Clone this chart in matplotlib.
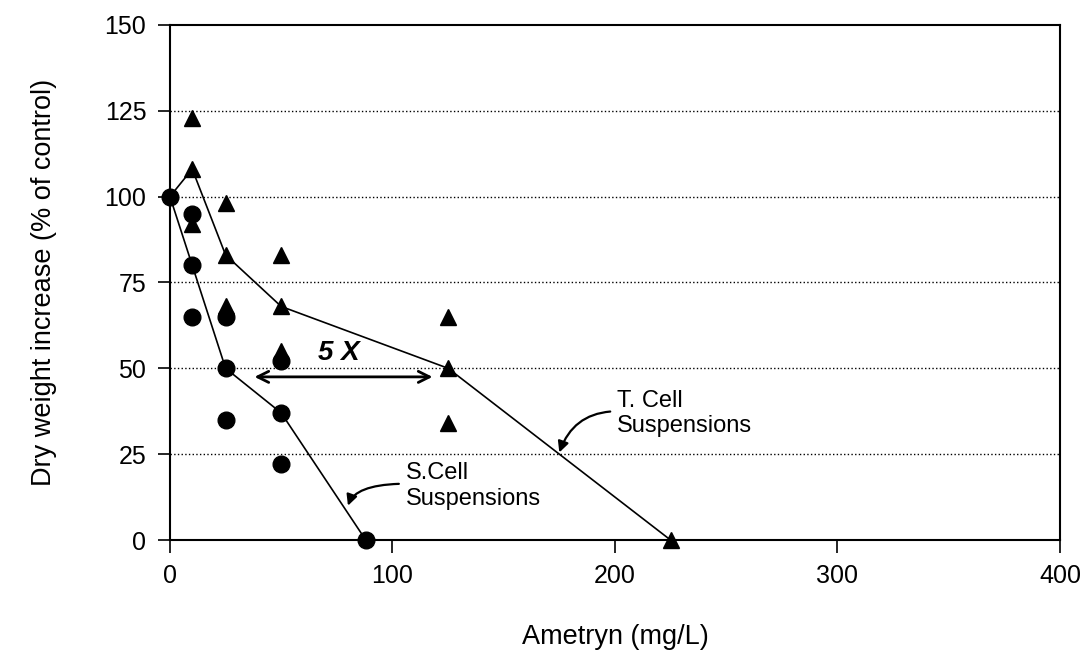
import matplotlib.pyplot as plt

plt.rcParams["font.family"] = ["Liberation Sans", "DejaVu Sans"]

# S. cell suspensions (circles)
s_x = [0, 10, 10, 10, 25, 25, 25, 50, 50, 50, 88]
s_y = [100, 95, 80, 65, 65, 50, 35, 52, 37, 22, 0]
s_line_x = [0, 10, 25, 50, 88]
s_line_y = [100, 80, 50, 37, 0]

# T. cell suspensions (triangles)
t_x = [10, 10, 10, 25, 25, 25, 50, 50, 50, 125, 125, 125, 225]
t_y = [123, 108, 92, 98, 83, 68, 83, 68, 55, 65, 50, 34, 0]
t_line_x = [0, 10, 25, 50, 125, 225]
t_line_y = [100, 108, 83, 68, 50, 0]

x_ticks = [0, 100, 200, 300, 400]
y_ticks = [0, 25, 50, 75, 100, 125, 150]

fig = plt.figure(figsize=(10.86, 6.53), dpi=100)
ax = fig.add_axes([0.1565, 0.173, 0.8195, 0.789])

for yv in y_ticks[1:-1]:
    ax.axhline(yv, color="black", linestyle=":", linewidth=1.0, zorder=1)

ax.plot(s_line_x, s_line_y, "-", color="black", linewidth=1.2, zorder=2)
ax.plot(t_line_x, t_line_y, "-", color="black", linewidth=1.2, zorder=2)
ax.plot(t_x, t_y, "^", color="black", markersize=12, linestyle="none",
        zorder=3, clip_on=False)
ax.plot(s_x, s_y, "o", color="black", markersize=12, linestyle="none",
        zorder=4, clip_on=False)

# 5 X arrow
ax.annotate("", xy=(38, 47.5), xytext=(118, 47.5),
            arrowprops=dict(arrowstyle="<->", color="black", lw=2,
                            mutation_scale=20, shrinkA=0, shrinkB=0))
ax.text(76, 54.5, "5 X", fontsize=20, fontweight="bold", fontstyle="italic",
        ha="center", va="center")

# labels with curved arrows
ax.annotate("S.Cell\nSuspensions", xy=(80, 10), xytext=(106, 15.7),
            fontsize=17, ha="left", va="center",
            arrowprops=dict(arrowstyle="-|>", color="black", lw=1.6,
                            connectionstyle="angle3,angleA=0,angleB=70",
                            relpos=(0, 0.55), shrinkA=3, shrinkB=0,
                            mutation_scale=16))
ax.annotate("T. Cell\nSuspensions", xy=(175, 25.5), xytext=(201, 36.8),
            fontsize=17, ha="left", va="center",
            arrowprops=dict(arrowstyle="-|>", color="black", lw=1.6,
                            connectionstyle="angle3,angleA=0,angleB=70",
                            relpos=(0, 0.55), shrinkA=3, shrinkB=0,
                            mutation_scale=16))

ax.set_xlim(0, 400)
ax.set_ylim(0, 150)
ax.set_xticks(x_ticks)
ax.set_yticks(y_ticks)
ax.tick_params(direction="out", length=9, width=1.2, labelsize=18, pad=8)
for sp in ax.spines.values():
    sp.set_linewidth(1.5)

ax.set_xlabel("Ametryn (mg/L)", fontsize=19.5, labelpad=26)
ax.set_ylabel("Dry weight increase (% of control)", fontsize=19.5, labelpad=34)

fig.savefig("out.png", dpi=100)
